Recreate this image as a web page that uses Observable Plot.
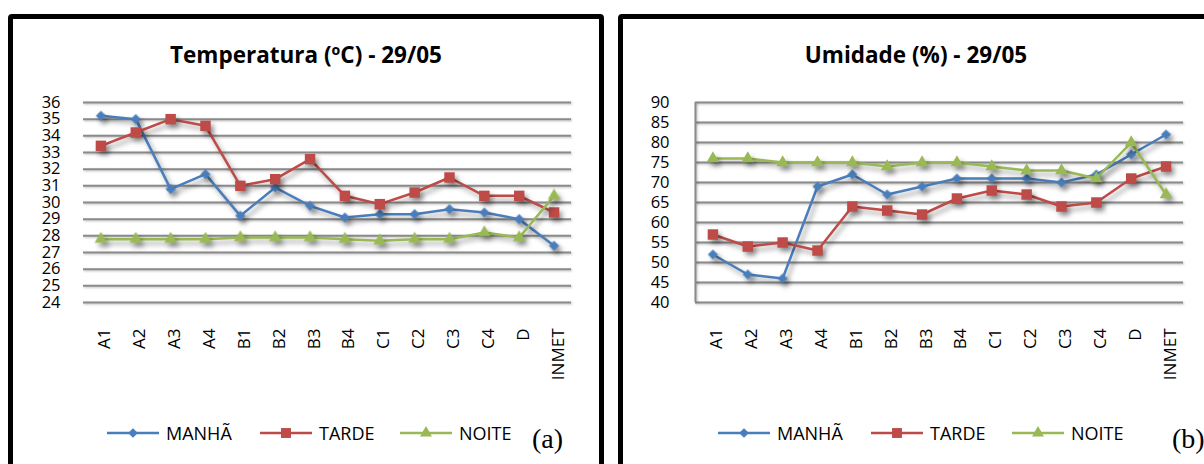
<!DOCTYPE html>
<html>
<head>
<meta charset="utf-8">
<script src="https://cdn.jsdelivr.net/npm/d3@7"></script>
<script src="https://cdn.jsdelivr.net/npm/@observablehq/plot@0.6"></script>
<style>
  body { margin: 0; background: #fff; font-family: "Open Sans", sans-serif; color: #000; }
  #wrap { position: relative; width: 1204px; height: 464px; overflow: hidden; background: #fff; }
  .panel { position: absolute; border: 5px solid #000; border-radius: 4px; box-sizing: border-box; }
  .title { position: absolute; font-weight: bold; font-size: 22.5px; line-height: 22px; white-space: nowrap; transform: translateX(-50%); }
  .legItem { position: absolute; height: 18px; font-size: 18px; line-height: 18px; white-space: nowrap; }
  .legItem svg { position: absolute; left: 0; top: 0; overflow: visible; }
  .legItem span { position: absolute; left: 59px; top: 0; }
  .tag { position: absolute; font-family: "Liberation Serif", "Times New Roman", serif; font-size: 28px; line-height: 28px; }
</style>
</head>
<body>
<div id="wrap">
  <div class="panel" style="left:8px;top:14px;width:596px;height:520px;"></div>
  <div class="panel" style="left:618px;top:14px;width:640px;height:520px;"></div>
</div>
<script>
// ---------- data ----------
const categories = ["A1","A2","A3","A4","B1","B2","B3","B4","C1","C2","C3","C4","D","INMET"];
const seriesNames = ["MANHÃ","TARDE","NOITE"];
const seriesColors = ["#4A7EBB","#BE4B48","#98B954"];
const seriesSymbols = ["diamond2","square","triangle"];
const seriesR = [4.6, 5.9, 4.7];

const tempTitle = "Temperatura (ºC) - 29/05";
const tempTicks = [24,25,26,27,28,29,30,31,32,33,34,35,36];
const tempManha = [35.2,35.0,30.8,31.7,29.2,30.9,29.8,29.1,29.3,29.3,29.6,29.4,29.0,27.4];
const tempTarde = [33.4,34.2,35.0,34.6,31.0,31.4,32.6,30.4,29.9,30.6,31.5,30.4,30.4,29.4];
const tempNoite = [27.8,27.8,27.8,27.8,27.9,27.9,27.9,27.8,27.7,27.8,27.8,28.2,27.9,30.4];

const umidTitle = "Umidade (%) - 29/05";
const umidTicks = [40,45,50,55,60,65,70,75,80,85,90];
const umidManha = [52,47,46,69,72,67,69,71,71,71,70,72,77,82];
const umidTarde = [57,54,55,53,64,63,62,66,68,67,64,65,71,74];
const umidNoite = [76,76,75,75,75,74,75,75,74,73,73,71,80,67];

const panelTags = ["(a)","(b)"];

// ---------- drawing ----------
const wrap = document.getElementById("wrap");
const gridColor = "#8a8a8a";
const shadow = "drop-shadow(3px 4px 2.5px rgba(0,0,0,0.38))";

function makeChart({seriesValues, ticks, left, width, marginLeft, marginRight, tickPadding, axisLine}) {
  const idx = categories.map((_, i) => i);
  const marks = [
    Plot.ruleY(ticks, {stroke: gridColor, strokeWidth: 2}),
  ];
  if (axisLine) marks.push(Plot.ruleX([-0.5], {stroke: gridColor, strokeWidth: 2}));
  marks.push(
    Plot.axisY({ticks, tickSize: 0, tickPadding, fontSize: 16.5, tickFormat: d => String(d), fill: "#000", label: null}),
    Plot.axisX({ticks: idx, tickFormat: i => categories[i], tickRotate: -90, tickSize: 0, tickPadding: 26, fontSize: 17, fill: "#000", label: null, dx: 4})
  );
  seriesValues.forEach((vals, s) => {
    const data = vals.map((v, i) => ({i, v}));
    marks.push(Plot.line(data, {x: "i", y: "v", stroke: seriesColors[s], strokeWidth: 2.5}));
    marks.push(Plot.dot(data, {x: "i", y: "v", symbol: seriesSymbols[s], fill: seriesColors[s], r: seriesR[s]}));
  });
  const svg = Plot.plot({
    width, height: 400,
    marginTop: 102, marginBottom: 98, marginLeft, marginRight,
    style: {background: "transparent", fontFamily: "Open Sans, sans-serif", position: "absolute", left: left + "px", top: "0px", overflow: "visible", color: "#000"},
    x: {type: "linear", domain: [-0.5, categories.length - 0.5], axis: null},
    y: {domain: [ticks[0], ticks[ticks.length - 1]], axis: null},
    marks
  });
  d3.select(svg).selectAll('g[aria-label="line"], g[aria-label="dot"]').style("filter", shadow);
  d3.select(svg).selectAll('g[aria-label="rule"]').style("filter", "drop-shadow(1px 1.5px 1px rgba(0,0,0,0.25))");
  return svg;
}

function addTitle(text, cx) {
  const d = document.createElement("div");
  d.className = "title";
  d.textContent = text;
  d.style.left = cx + "px";
  d.style.top = "44px";
  wrap.appendChild(d);
}

function addLegend(xs) {
  seriesNames.forEach((name, s) => {
    const item = document.createElement("div");
    item.className = "legItem";
    item.style.left = xs[s] + "px";
    item.style.top = "424px";
    const sv = d3.create("svg").attr("width", 52).attr("height", 18);
    sv.append("line").attr("x1", 0).attr("x2", 52).attr("y1", 9).attr("y2", 9)
      .attr("stroke", seriesColors[s]).attr("stroke-width", 2.5);
    const symType = {diamond2: d3.symbolDiamond2, square: d3.symbolSquare, triangle: d3.symbolTriangle}[seriesSymbols[s]];
    const size = Math.PI * seriesR[s] * seriesR[s] * 0.9;
    sv.append("path").attr("d", d3.symbol(symType, size)()).attr("transform", "translate(26,9)").attr("fill", seriesColors[s]);
    item.appendChild(sv.node());
    const sp = document.createElement("span");
    sp.textContent = name;
    item.appendChild(sp);
    wrap.appendChild(item);
  });
}

function addTag(text, x) {
  const d = document.createElement("div");
  d.className = "tag";
  d.textContent = text;
  d.style.left = x + "px";
  d.style.top = "425px";
  wrap.appendChild(d);
}

wrap.appendChild(makeChart({
  seriesValues: [tempManha, tempTarde, tempNoite], ticks: tempTicks,
  left: 0, width: 604, marginLeft: 83, marginRight: 33, tickPadding: 23, axisLine: false
}));
wrap.appendChild(makeChart({
  seriesValues: [umidManha, umidTarde, umidNoite], ticks: umidTicks,
  left: 620, width: 584, marginLeft: 75, marginRight: 21, tickPadding: 26, axisLine: true
}));

addTitle(tempTitle, 306);
addTitle(umidTitle, 916);
addLegend([107, 260, 400]);
addLegend([718, 871, 1012]);
addTag(panelTags[0], 532);
addTag(panelTags[1], 1172);
</script>
</body>
</html>
